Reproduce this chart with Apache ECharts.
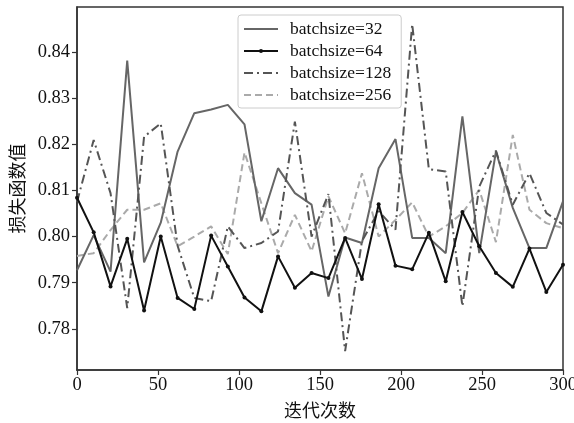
<!DOCTYPE html>
<html>
<head>
<meta charset="utf-8">
<script src="https://cdn.jsdelivr.net/npm/echarts@6/dist/echarts.min.js"></script>
<style>
    html, body { margin: 0; padding: 0; background: #fff; }
    #chart { width: 574px; height: 423px; }
</style>
</head>
<body>
<div id="chart"></div>
<script>
// iteration counts (x) and the loss per batch size
let iterations = [0, 10.3, 20.7, 31.0, 41.4, 51.7, 62.1, 72.4, 82.8, 93.1,
    103.4, 113.8, 124.1, 134.5, 144.8, 155.2, 165.5, 175.9, 186.2, 196.6,
    206.9, 217.2, 227.6, 237.9, 248.3, 258.6, 269.0, 279.3, 289.7, 300];

let loss32 = [0.7927, 0.8003, 0.7924, 0.8381, 0.7944, 0.8030, 0.8184, 0.8267, 0.8275, 0.8285,
    0.8243, 0.8033, 0.8148, 0.8094, 0.8069, 0.7870, 0.7998, 0.7986, 0.8148, 0.8211,
    0.7997, 0.7997, 0.7964, 0.8260, 0.7964, 0.8184, 0.8062, 0.7975, 0.7975, 0.8076];

let loss64 = [0.8084, 0.8009, 0.7892, 0.7995, 0.7840, 0.8000, 0.7867, 0.7843, 0.8002, 0.7935,
    0.7868, 0.7838, 0.7957, 0.7889, 0.7921, 0.7910, 0.7997, 0.7908, 0.8070, 0.7937,
    0.7929, 0.8008, 0.7903, 0.8053, 0.7979, 0.7921, 0.7891, 0.7974, 0.7880, 0.7939];

let loss128 = [0.8075, 0.8209, 0.8094, 0.7845, 0.8216, 0.8245, 0.7980, 0.7867, 0.7860, 0.8022,
    0.7975, 0.7986, 0.8011, 0.8249, 0.8000, 0.8092, 0.7752, 0.7990, 0.8055, 0.8015,
    0.8460, 0.8146, 0.8141, 0.7849, 0.8108, 0.8186, 0.8069, 0.8137, 0.8051, 0.8026];

let loss256 = [0.7958, 0.7964, 0.8014, 0.8058, 0.8058, 0.8072, 0.7979, 0.8000, 0.8022, 0.7962,
    0.8182, 0.8072, 0.7964, 0.8047, 0.7968, 0.8087, 0.8007, 0.8137, 0.8000, 0.8036,
    0.8074, 0.8000, 0.8022, 0.8051, 0.8101, 0.7988, 0.8220, 0.8058, 0.8029, 0.8018];

let seriesNames = ['batchsize=32', 'batchsize=64', 'batchsize=128', 'batchsize=256'];
let xTicks = [0, 50, 100, 150, 200, 250, 300];
let yTicks = [0.78, 0.79, 0.80, 0.81, 0.82, 0.83, 0.84];

function pairs(ys) {
    return ys.map(function (y, i) {
        return [iterations[i], y];
    });
}

let serif = 'Liberation Serif';
let cjk = 'Noto Sans CJK SC';
let hidden = { opacity: 0 };

let chart = echarts.init(document.getElementById('chart'), null, { renderer: 'canvas' });

chart.setOption({
    backgroundColor: '#fff',
    animation: false,
    grid: {
        left: 77,
        right: 11,
        top: 7,
        bottom: 53,
        containLabel: false,
        outerBoundsMode: 'none',
        show: true,
        borderColor: '#333',
        borderWidth: 1.5,
        backgroundColor: 'transparent'
    },
    legend: {
        orient: 'vertical',
        left: 238,
        top: 15,
        padding: [5, 10, 4, 5],
        itemWidth: 34,
        itemHeight: 5,
        itemGap: 4,
        borderColor: '#ccc',
        borderWidth: 1,
        borderRadius: 3,
        backgroundColor: '#fff',
        textStyle: {
            fontFamily: serif,
            fontSize: 17.5,
            color: '#111',
            lineHeight: 18,
            padding: [0, 0, 0, 7]
        },
        data: [
            { name: seriesNames[0], itemStyle: hidden },
            { name: seriesNames[1] },
            { name: seriesNames[2], itemStyle: hidden },
            { name: seriesNames[3], itemStyle: hidden }
        ]
    },
    xAxis: {
        type: 'value',
        min: 0,
        max: 300,
        interval: 50,
        name: '迭代次数',
        nameLocation: 'middle',
        nameGap: 31,
        nameTextStyle: { fontFamily: cjk, fontSize: 18, color: '#111' },
        axisLine: { show: true, lineStyle: { color: '#333', width: 1.5 } },
        axisTick: { show: true, length: 5, lineStyle: { color: '#333', width: 1.2 } },
        axisLabel: {
            margin: 6,
            fontFamily: serif,
            fontSize: 18.5,
            color: '#111',
            customValues: xTicks
        },
        splitLine: { show: false }
    },
    yAxis: {
        type: 'value',
        min: 0.7711,
        max: 0.8497,
        name: '损失函数值',
        nameLocation: 'middle',
        nameRotate: 90,
        nameGap: 51,
        nameTextStyle: { fontFamily: cjk, fontSize: 18, color: '#111' },
        axisLine: { show: true, lineStyle: { color: '#333', width: 1.5 } },
        axisTick: { show: true, length: 5, lineStyle: { color: '#333', width: 1.2 }, customValues: yTicks },
        axisLabel: {
            margin: 7,
            fontFamily: serif,
            fontSize: 18.5,
            color: '#111',
            customValues: yTicks,
            formatter: function (v) {
                return v.toFixed(2);
            }
        },
        splitLine: { show: false }
    },
    series: [
        {
            name: seriesNames[0],
            type: 'line',
            data: pairs(loss32),
            showSymbol: false,
            symbol: 'none',
            color: '#666',
            lineStyle: { color: '#666', width: 2 },
            z: 2
        },
        {
            name: seriesNames[1],
            type: 'line',
            data: pairs(loss64),
            symbol: 'circle',
            symbolSize: 4,
            color: '#111',
            itemStyle: { color: '#111' },
            lineStyle: { color: '#111', width: 2 },
            z: 5
        },
        {
            name: seriesNames[2],
            type: 'line',
            data: pairs(loss128),
            showSymbol: false,
            symbol: 'none',
            color: '#555',
            lineStyle: { color: '#555', width: 2, type: [9, 4, 2, 4] },
            z: 3
        },
        {
            name: seriesNames[3],
            type: 'line',
            data: pairs(loss256),
            showSymbol: false,
            symbol: 'none',
            color: '#aaa',
            lineStyle: { color: '#aaa', width: 2, type: [7, 4] },
            z: 1
        }
    ]
});
</script>
</body>
</html>
